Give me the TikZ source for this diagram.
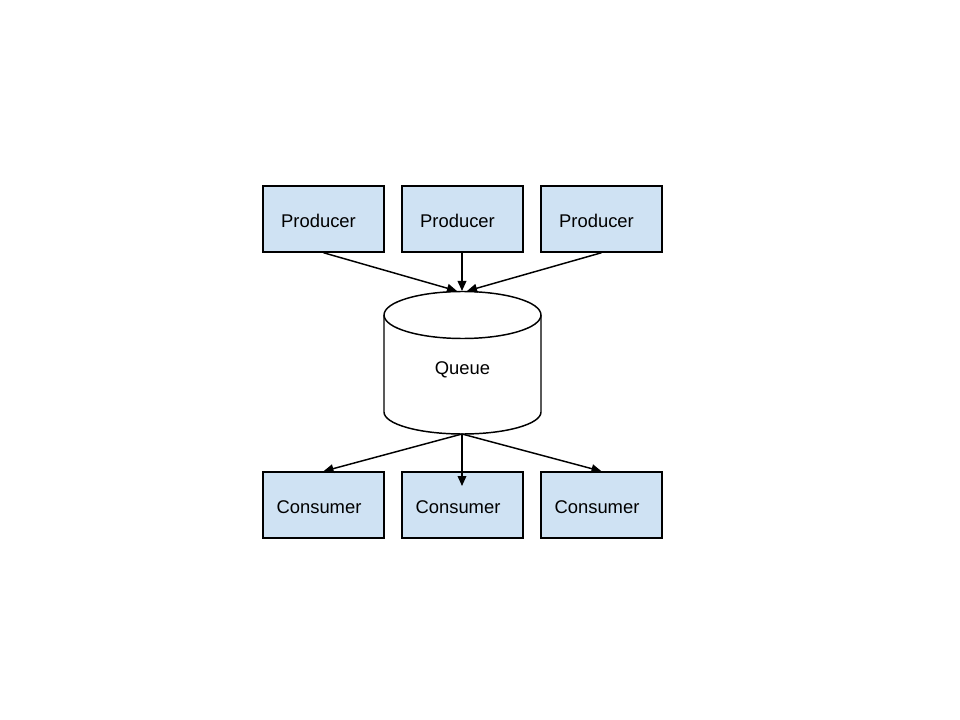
\documentclass[tikz,border=0pt]{standalone}
\usepackage{fontspec}
\setmainfont{Liberation Sans}
\usetikzlibrary{arrows.meta}
\definecolor{boxblue}{HTML}{CFE2F3}
\tikzset{
  px/.style={x=0.75pt,y=-0.75pt},
  procbox/.style={draw=black,fill=boxblue,line width=1.1pt,minimum width=90.75pt,minimum height=49.5pt,inner sep=0pt,font=\fontsize{13.8}{16}\selectfont},
  conn/.style={draw=black,line width=1.1pt,-{Triangle[length=7.5pt,width=6.5pt]}},
  cyl/.style={draw=black,line width=1.1pt,fill=white}
}
\begin{document}
\begin{tikzpicture}[px]
\useasboundingbox (0,0) rectangle (960,720);
% producers
\node[procbox] (p1) at (323.5,219) {};
\node[procbox] (p2) at (462.5,219) {};
\node[procbox] (p3) at (601.5,219) {};
\node[font=\fontsize{13.8}{16}\selectfont] (tp1) at (318.5,221) {Producer};
\node[font=\fontsize{13.8}{16}\selectfont] (tp2) at (457.5,221) {Producer};
\node[font=\fontsize{13.8}{16}\selectfont] (tp3) at (596.5,221) {Producer};
% consumers
\node[procbox] (c1) at (323.5,505) {};
\node[procbox] (c2) at (462.5,505) {};
\node[procbox] (c3) at (601.5,505) {};
\node[font=\fontsize{13.8}{16}\selectfont] (tc1) at (319,507) {Consumer};
\node[font=\fontsize{13.8}{16}\selectfont] (tc2) at (458,507) {Consumer};
\node[font=\fontsize{13.8}{16}\selectfont] (tc3) at (597,507) {Consumer};
% queue cylinder
\path[cyl] (384,315) -- (384,412) arc[start angle=180,end angle=0,x radius=78.5,y radius=22] -- (541,315) arc[start angle=0,end angle=-180,x radius=78.5,y radius=23.5] -- cycle;
\draw[cyl,fill=none] (384,315) arc[start angle=180,end angle=360,x radius=78.5,y radius=-23.5];
\node[font=\fontsize{13.8}{16}\selectfont] (q) at (462.5,370) {Queue};
\coordinate (qt1) at (457,291);
\coordinate (qt2) at (462,291);
\coordinate (qt3) at (467,291);
\coordinate (qb) at (462,434);
\coordinate (c2in) at (462,486);
% connectors
\draw[conn] (p1.south) -- (qt1);
\draw[conn] (p2.south -| qt2) -- (qt2);
\draw[conn] (p3.south) -- (qt3);
\draw[conn] (qb) -- (c1.north);
\draw[conn] (qb) -- (c2in);
\draw[conn] (qb) -- (c3.north);
\end{tikzpicture}
\end{document}
